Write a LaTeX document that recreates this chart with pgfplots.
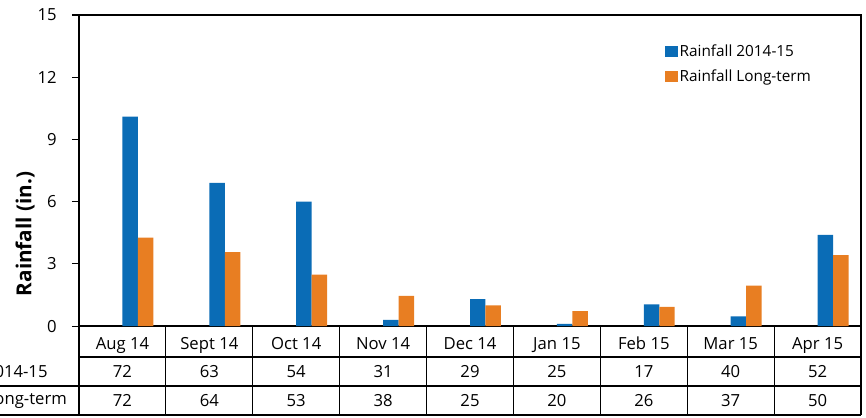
\documentclass[border=0pt]{standalone}
\usepackage{pgfplots}
\usepackage{pgfplotstable}
\pgfplotsset{compat=1.18}
\usepackage{fontspec}
\setmainfont{Open Sans}
\definecolor{cblue}{HTML}{0A6CB6}
\definecolor{corange}{HTML}{E87E22}

\pgfplotstableread{
x r1 r2 rain lt
0 72 72 10.1 4.27
1 63 64 6.9 3.57
2 54 53 6.0 2.48
3 31 38 0.3 1.45
4 29 25 1.3 1.0
5 25 20 0.1 0.72
6 17 26 1.05 0.92
7 40 37 0.47 1.95
8 52 50 4.4 3.42
}\datatable

\begin{document}
\begin{tikzpicture}[font=\fontsize{12.5}{14}\selectfont]
\begin{axis}[
  scale only axis, width=586.5pt, height=233.25pt,
  xmin=-0.5, xmax=8.5, ymin=0, ymax=15,
  ytick={0,3,...,15},
  xtick={0,...,8},
  xticklabels={Aug 14, Sept 14, Oct 14, Nov 14, Dec 14, Jan 15, Feb 15, Mar 15, Apr 15},
  x tick style={draw=none},
  xticklabel style={anchor=center, text height=8.5pt, text depth=2.5pt, yshift=-9.6pt},
  ytick pos=left, tick align=outside, major tick length=5.25pt,
  y tick style={line width=0.8pt, black},
  yticklabel style={anchor=east, xshift=-8pt},
  axis line style={line width=0.9pt},
  /pgf/number format/assume math mode=true,
  clip=false,
  ylabel={\bfseries Rainfall (in.)},
  ylabel style={at={(axis description cs:-0.069,0.296)}, anchor=center, font=\fontsize{15.5}{18}\selectfont},
  legend cell align=left,
  legend style={draw=none, fill=none, at={(axis description cs:0.749,0.912)}, anchor=north west,
    row sep=5.5pt, inner sep=0pt, nodes={inner sep=1.5pt}, font=\fontsize{11.5}{13}\selectfont},
  legend image code/.code={\fill[#1] (0pt,-4.4pt) rectangle (9.5pt,4.4pt);},
]
\addplot[ybar, bar width=0.178, bar shift=0.089, fill=cblue, draw=none] table[x=x, y=rain] {\datatable};
\addplot[ybar, bar width=0.178, bar shift=0.267, fill=corange, draw=none] table[x=x, y=lt] {\datatable};
\legend{Rainfall 2014-15, Rainfall Long-term}

\addplot[draw=none, mark=none, nodes near coords, point meta=explicit symbolic,
  every node near coord/.style={anchor=center, text=black}] table[x=x, y expr=-2.195, meta=r1] {\datatable};
\addplot[draw=none, mark=none, nodes near coords, point meta=explicit symbolic,
  every node near coord/.style={anchor=center, text=black}] table[x=x, y expr=-3.59, meta=r2] {\datatable};

\pgfplotsinvokeforeach{-0.5,0.5,1.5,2.5,3.5,4.5,5.5,6.5,7.5,8.5}{
  \draw[line width=0.9pt] (axis cs:#1,0) -- (axis cs:#1,-4.293);
}
\draw[line width=0.9pt] (axis cs:-0.5,-1.495) -- (axis cs:8.5,-1.495);
\draw[line width=0.9pt] (axis cs:-2,-2.894) -- (axis cs:8.5,-2.894);
\draw[line width=0.9pt] (axis cs:-2,-4.293) -- (axis cs:8.5,-4.293);
\node[anchor=west, inner sep=0pt] at (axis cs:-1.585,-2.195) {2014-15};
\node[anchor=west, inner sep=0pt] at (axis cs:-1.575,-3.59) {Long-term};

\coordinate (bbsw) at (axis cs:-1.409,-4.389);
\coordinate (bbne) at (axis cs:8.557,15.724);
\end{axis}
\pgfresetboundingbox
\useasboundingbox (bbsw) rectangle (bbne);
\end{tikzpicture}
\end{document}
